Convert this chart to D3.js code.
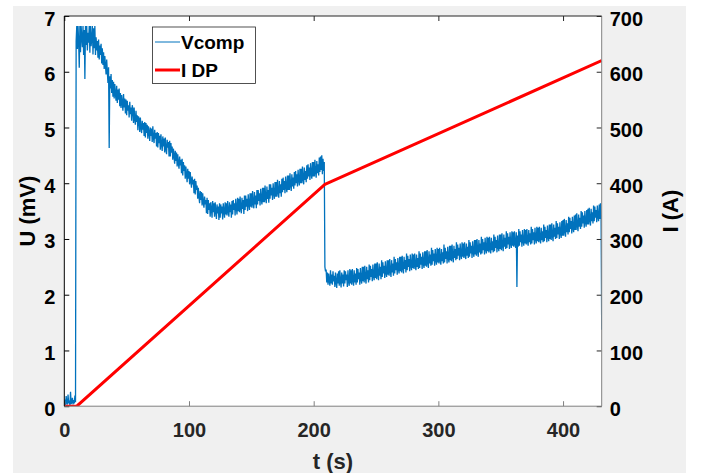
<!DOCTYPE html>
<html>
<head>
<meta charset="utf-8">
<script src="https://cdn.jsdelivr.net/npm/d3@7"></script>
<style>
  html, body { margin: 0; padding: 0; background: #ffffff; }
  svg { display: block; }
  text { font-family: "Liberation Sans", Arial, sans-serif; font-weight: bold; }
</style>
</head>
<body>
<div id="chart"></div>
<script>
// ---------------- data ----------------
const xTicks = [0, 100, 200, 300, 400];
const yLeftTicks = [0, 1, 2, 3, 4, 5, 6, 7];
const yRightTicks = [0, 100, 200, 300, 400, 500, 600, 700];

// I DP (A) vs t (s)
const idpTimes = [0, 10, 209, 431];
const idpValues = [0, 0, 398, 620];

// Vcomp (mV), one sample every 0.5 s starting at t = 0 s
const vcompStep = 0.5;
const vcompValues = [
  0.04, 0.12, 0.02, 0.18, 0.06, 0.03, 0.21, 0.05, 0.10, 0.02,
  0.26, 0.04, 0.08, 0.15, 0.03, 0.11, 0.05, 0.19, 0.07, 6.55,
  6.82, 6.41, 6.82, 6.55, 6.07, 6.82, 6.35, 6.82, 6.62, 6.44,
  6.82, 6.30, 6.75, 5.87, 6.82, 6.48, 6.82, 6.38, 6.70, 6.52,
  6.82, 6.34, 6.82, 6.46, 6.60, 6.82, 6.31, 6.78, 6.42, 6.82,
  6.30, 6.62, 6.38, 6.55, 6.25, 6.58, 6.22, 6.47, 6.30, 6.50,
  6.15, 6.42, 6.12, 6.35, 6.05, 6.28, 6.12, 5.95, 6.22, 6.00,
  5.80, 6.08, 4.63, 5.92, 5.70, 5.96, 5.62, 5.85, 5.55, 5.82,
  5.52, 5.78, 5.60, 5.48, 5.75, 5.44, 5.68, 5.50, 5.70, 5.38,
  5.62, 5.35, 5.58, 5.45, 5.30, 5.60, 5.36, 5.52, 5.25, 5.50,
  5.22, 5.48, 5.30, 5.40, 5.18, 5.46, 5.24, 5.36, 5.12, 5.40,
  5.32, 5.08, 5.36, 5.15, 5.05, 5.30, 5.10, 5.22, 4.95, 5.20,
  5.15, 4.92, 5.18, 5.00, 4.90, 5.12, 4.96, 5.08, 4.85, 5.10,
  4.82, 5.08, 4.90, 5.05, 4.80, 5.02, 4.92, 4.76, 5.00, 4.85,
  4.98, 4.74, 5.02, 4.82, 4.72, 4.96, 4.80, 4.90, 4.66, 4.92,
  4.64, 4.90, 4.72, 4.85, 4.60, 4.88, 4.70, 4.58, 4.84, 4.66,
  4.80, 4.55, 4.82, 4.62, 4.52, 4.78, 4.64, 4.74, 4.48, 4.76,
  4.48, 4.72, 4.55, 4.66, 4.42, 4.62, 4.50, 4.35, 4.58, 4.40,
  4.55, 4.30, 4.52, 4.36, 4.26, 4.48, 4.32, 4.42, 4.18, 4.44,
  4.14, 4.38, 4.22, 4.32, 4.08, 4.30, 4.16, 4.02, 4.26, 4.08,
  4.22, 3.98, 4.20, 4.04, 3.92, 4.12, 3.98, 4.06, 3.82, 4.08,
  3.80, 4.04, 3.88, 3.96, 3.72, 3.92, 3.76, 3.64, 3.86, 3.70,
  3.84, 3.60, 3.82, 3.66, 3.56, 3.76, 3.62, 3.70, 3.46, 3.74,
  3.45, 3.70, 3.52, 3.64, 3.40, 3.66, 3.54, 3.38, 3.68, 3.48,
  3.64, 3.40, 3.66, 3.50, 3.36, 3.62, 3.46, 3.58, 3.34, 3.64,
  3.38, 3.62, 3.46, 3.58, 3.35, 3.64, 3.50, 3.38, 3.66, 3.44,
  3.64, 3.42, 3.68, 3.50, 3.40, 3.66, 3.48, 3.62, 3.38, 3.68,
  3.44, 3.70, 3.52, 3.64, 3.42, 3.72, 3.56, 3.44, 3.74, 3.50,
  3.72, 3.48, 3.76, 3.56, 3.46, 3.74, 3.54, 3.70, 3.45, 3.78,
  3.52, 3.78, 3.58, 3.72, 3.50, 3.80, 3.62, 3.52, 3.82, 3.58,
  3.82, 3.56, 3.86, 3.64, 3.55, 3.84, 3.62, 3.78, 3.55, 3.88,
  3.62, 3.88, 3.68, 3.82, 3.60, 3.90, 3.72, 3.62, 3.92, 3.66,
  3.92, 3.66, 3.96, 3.74, 3.64, 3.94, 3.72, 3.88, 3.65, 3.98,
  3.72, 3.98, 3.78, 3.92, 3.70, 4.00, 3.82, 3.72, 4.02, 3.76,
  4.02, 3.76, 4.06, 3.84, 3.74, 4.04, 3.82, 3.98, 3.76, 4.08,
  3.84, 4.10, 3.88, 4.04, 3.82, 4.12, 3.94, 3.84, 4.14, 3.88,
  4.14, 3.88, 4.18, 3.96, 3.86, 4.16, 3.94, 4.10, 3.90, 4.20,
  3.96, 4.22, 4.00, 4.16, 3.94, 4.24, 4.06, 3.96, 4.26, 4.00,
  4.26, 4.00, 4.30, 4.08, 3.98, 4.28, 4.06, 4.22, 4.02, 4.32,
  4.08, 4.34, 4.12, 4.28, 4.06, 4.36, 4.18, 4.08, 4.38, 4.12,
  4.38, 4.12, 4.42, 4.20, 4.10, 4.40, 4.18, 4.34, 4.14, 4.46,
  4.20, 4.48, 4.24, 4.50, 4.16, 4.44, 4.22, 4.38, 2.50, 2.42,
  2.45, 2.22, 2.40, 2.18, 2.38, 2.26, 2.16, 2.44, 2.20, 2.36,
  2.18, 2.42, 2.24, 2.34, 2.14, 2.40, 2.22, 2.12, 2.38, 2.20,
  2.42, 2.16, 2.44, 2.24, 2.13, 2.40, 2.20, 2.36, 2.15, 2.44,
  2.20, 2.42, 2.26, 2.36, 2.14, 2.44, 2.24, 2.16, 2.46, 2.20,
  2.44, 2.18, 2.46, 2.26, 2.16, 2.44, 2.22, 2.38, 2.18, 2.48,
  2.22, 2.46, 2.28, 2.40, 2.18, 2.48, 2.28, 2.20, 2.50, 2.24,
  2.50, 2.22, 2.52, 2.30, 2.20, 2.50, 2.28, 2.44, 2.22, 2.54,
  2.26, 2.52, 2.32, 2.46, 2.24, 2.54, 2.34, 2.26, 2.56, 2.30,
  2.56, 2.28, 2.58, 2.36, 2.26, 2.56, 2.34, 2.50, 2.28, 2.62,
  2.32, 2.58, 2.38, 2.52, 2.30, 2.60, 2.40, 2.32, 2.62, 2.36,
  2.62, 2.34, 2.64, 2.42, 2.32, 2.62, 2.40, 2.56, 2.34, 2.68,
  2.38, 2.64, 2.44, 2.58, 2.36, 2.66, 2.46, 2.38, 2.68, 2.42,
  2.68, 2.40, 2.70, 2.48, 2.38, 2.68, 2.46, 2.62, 2.40, 2.74,
  2.44, 2.70, 2.50, 2.64, 2.42, 2.72, 2.52, 2.44, 2.74, 2.48,
  2.72, 2.46, 2.74, 2.52, 2.44, 2.72, 2.50, 2.66, 2.46, 2.78,
  2.48, 2.74, 2.54, 2.68, 2.46, 2.76, 2.56, 2.48, 2.78, 2.52,
  2.78, 2.50, 2.80, 2.58, 2.48, 2.78, 2.56, 2.72, 2.52, 2.84,
  2.54, 2.80, 2.60, 2.74, 2.52, 2.82, 2.62, 2.54, 2.84, 2.58,
  2.82, 2.56, 2.84, 2.62, 2.54, 2.82, 2.60, 2.76, 2.56, 2.90,
  2.58, 2.84, 2.64, 2.78, 2.56, 2.86, 2.66, 2.58, 2.88, 2.62,
  2.88, 2.60, 2.90, 2.68, 2.58, 2.88, 2.66, 2.82, 2.62, 2.94,
  2.64, 2.90, 2.70, 2.84, 2.62, 2.92, 2.72, 2.64, 2.94, 2.68,
  2.92, 2.66, 2.94, 2.72, 2.64, 2.92, 2.70, 2.86, 2.66, 2.98,
  2.68, 2.94, 2.74, 2.88, 2.66, 2.96, 2.76, 2.68, 2.98, 2.72,
  2.98, 2.70, 3.00, 2.78, 2.68, 2.98, 2.76, 2.92, 2.72, 3.04,
  2.74, 3.00, 2.80, 2.94, 2.72, 3.02, 2.82, 2.74, 3.04, 2.78,
  3.02, 2.76, 3.04, 2.82, 2.74, 3.02, 2.80, 2.96, 2.76, 3.08,
  2.78, 3.04, 2.84, 2.98, 2.76, 3.06, 2.86, 2.78, 3.08, 2.82,
  3.08, 2.80, 3.10, 2.88, 2.78, 3.08, 2.86, 3.02, 2.82, 3.14,
  2.84, 3.10, 2.90, 3.04, 2.82, 3.12, 2.92, 2.84, 3.14, 2.88,
  3.12, 2.86, 3.14, 2.92, 2.84, 3.12, 2.14, 3.06, 2.86, 3.18,
  2.88, 3.14, 2.94, 3.08, 2.86, 3.16, 2.96, 2.88, 3.18, 2.92,
  3.16, 2.90, 3.18, 2.96, 2.88, 3.16, 2.94, 3.10, 2.90, 3.22,
  2.92, 3.18, 2.98, 3.12, 2.90, 3.20, 3.00, 2.92, 3.22, 2.96,
  3.20, 2.94, 3.22, 3.00, 2.92, 3.20, 2.98, 3.14, 2.94, 3.26,
  2.96, 3.22, 3.02, 3.16, 2.94, 3.24, 3.04, 2.96, 3.26, 3.00,
  3.26, 2.98, 3.28, 3.06, 2.96, 3.26, 3.04, 3.20, 3.00, 3.32,
  3.02, 3.28, 3.08, 3.22, 3.00, 3.30, 3.10, 3.02, 3.32, 3.06,
  3.34, 3.06, 3.36, 3.14, 3.04, 3.34, 3.12, 3.28, 3.08, 3.40,
  3.12, 3.38, 3.18, 3.32, 3.10, 3.40, 3.20, 3.12, 3.42, 3.16,
  3.44, 3.16, 3.46, 3.24, 3.14, 3.44, 3.22, 3.38, 3.18, 3.50,
  3.22, 3.48, 3.28, 3.42, 3.20, 3.50, 3.30, 3.22, 3.52, 3.26,
  3.54, 3.26, 3.56, 3.34, 3.24, 3.54, 3.32, 3.48, 3.28, 3.60,
  3.32, 3.58, 3.38, 3.52, 3.30, 3.60, 3.40, 3.32, 3.62, 3.36,
  3.64, 3.38, 1.37
];
const vcompTimes = vcompValues.map((v, i) => i * vcompStep);

const legendLabels = ["Vcomp", "I DP"];

// ---------------- layout ----------------
const W = 707, H = 473;
const L = 64.3, R = 601.7, T = 16, B = 406.2;
const blue = "#0072BD", red = "#FF0000";
const FONT = '"Liberation Sans", Arial, sans-serif';

const svg = d3.select("#chart").append("svg").attr("width", W).attr("height", H);

// figure background
svg.append("rect").attr("x", 13).attr("y", 6).attr("width", 673).attr("height", H - 6).attr("fill", "#f0f0f0");
// axes background
svg.append("rect").attr("x", L).attr("y", T).attr("width", R - L).attr("height", B - T).attr("fill", "#ffffff");

const x = d3.scaleLinear().domain([0, 431]).range([L, R]);
const yL = d3.scaleLinear().domain([0, 7]).range([B, T]);
const yR = d3.scaleLinear().domain([0, 700]).range([B, T]);

svg.append("clipPath").attr("id", "clip").append("rect")
  .attr("x", L).attr("y", T).attr("width", R - L).attr("height", B - T);

const plot = svg.append("g").attr("clip-path", "url(#clip)");

// Vcomp
plot.append("path")
  .datum(vcompTimes.map((t, i) => [t, vcompValues[i]]))
  .attr("fill", "none").attr("stroke", blue).attr("stroke-width", 1.3)
  .attr("d", d3.line().x(d => x(d[0])).y(d => yL(d[1])));

// I DP
plot.append("path")
  .datum(idpTimes.map((t, i) => [t, idpValues[i]]))
  .attr("fill", "none").attr("stroke", red).attr("stroke-width", 3)
  .attr("stroke-linejoin", "round")
  .attr("d", d3.line().x(d => x(d[0])).y(d => yR(d[1])));

// ---------------- axes ----------------
function styleAxis(g, lineColor, textColor) {
  g.select(".domain").remove();
  g.selectAll(".tick line").attr("stroke", lineColor);
  g.selectAll(".tick text").attr("fill", textColor)
    .style("font-size", "20px").style("font-family", FONT).style("font-weight", "bold");
}

const gB = svg.append("g").attr("transform", `translate(0,${B})`)
  .call(d3.axisBottom(x).tickValues(xTicks).tickSize(-5).tickPadding(17).tickFormat(d3.format("d")));
styleAxis(gB, "#808080", "#262626");

const gT = svg.append("g").attr("transform", `translate(0,${T})`)
  .call(d3.axisTop(x).tickValues(xTicks).tickSize(-5).tickFormat(""));
styleAxis(gT, "#262626", "#262626");

const gL = svg.append("g").attr("transform", `translate(${L},0)`)
  .call(d3.axisLeft(yL).tickValues(yLeftTicks).tickSize(-5).tickPadding(9).tickFormat(d3.format("d")));
styleAxis(gL, "#000000", "#000000");
gL.selectAll(".tick text").attr("dy", "0.45em");

const gR = svg.append("g").attr("transform", `translate(${R},0)`)
  .call(d3.axisRight(yR).tickValues(yRightTicks).tickSize(-5).tickPadding(8).tickFormat(d3.format("d")));
styleAxis(gR, "#262626", "#000000");
gR.selectAll(".tick text").attr("dy", "0.45em");

// axis lines
svg.append("line").attr("x1", L).attr("x2", R).attr("y1", B).attr("y2", B).attr("stroke", "#808080").attr("stroke-width", 1);
svg.append("line").attr("x1", R).attr("x2", R).attr("y1", T).attr("y2", B).attr("stroke", "#808080").attr("stroke-width", 1);
svg.append("line").attr("x1", L).attr("x2", R).attr("y1", T).attr("y2", T).attr("stroke", "#262626").attr("stroke-width", 1);
svg.append("line").attr("x1", L).attr("x2", L).attr("y1", T).attr("y2", B).attr("stroke", "#000000").attr("stroke-width", 1);

// axis titles
svg.append("text").attr("x", (L + R) / 2).attr("y", 469).attr("text-anchor", "middle")
  .attr("fill", "#262626").style("font-size", "22px").text("t (s)");
svg.append("text").attr("transform", `translate(34.5,${(T + B) / 2}) rotate(-90)`).attr("text-anchor", "middle")
  .attr("fill", "#000").style("font-size", "22px").text("U (mV)");
svg.append("text").attr("transform", `translate(678,${(T + B) / 2}) rotate(-90)`).attr("text-anchor", "middle")
  .attr("fill", "#000").style("font-size", "22px").text("I (A)");

// ---------------- legend ----------------
const lg = svg.append("g");
lg.append("rect").attr("x", 152.5).attr("y", 27).attr("width", 103).attr("height", 56.5)
  .attr("fill", "#ffffff").attr("stroke", "#262626").attr("stroke-width", 0.8);
const legColors = [blue, red], legWidths = [1, 3], legY = [42, 70];
legendLabels.forEach((lab, i) => {
  lg.append("line").attr("x1", 155).attr("x2", 180).attr("y1", legY[i]).attr("y2", legY[i])
    .attr("stroke", legColors[i]).attr("stroke-width", legWidths[i]);
  lg.append("text").attr("x", 181).attr("y", legY[i] + 6.5).attr("fill", "#000")
    .style("font-size", "19px").text(lab);
});
</script>
</body>
</html>
